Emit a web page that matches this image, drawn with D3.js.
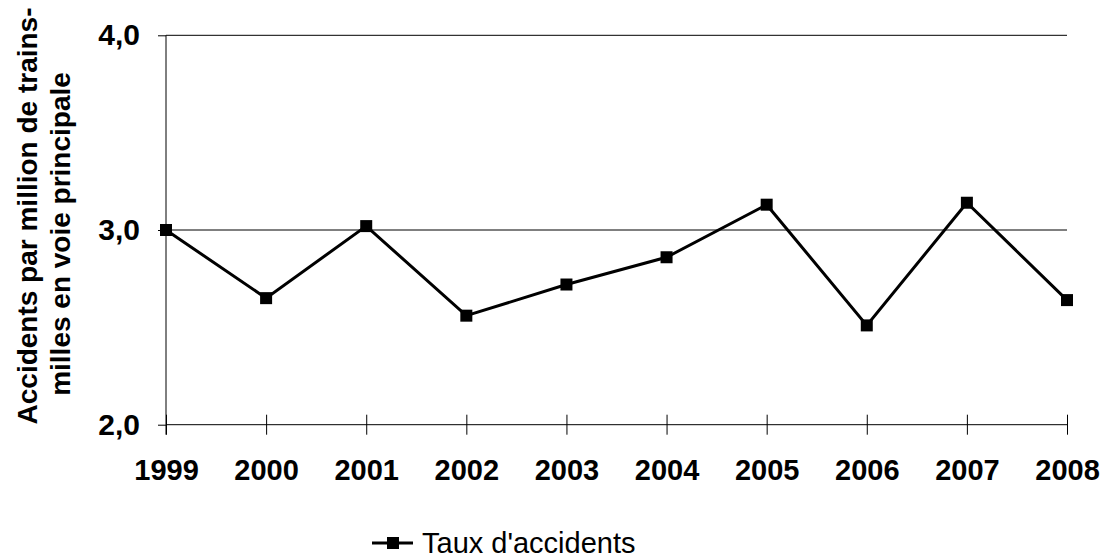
<!DOCTYPE html>
<html><head><meta charset="utf-8">
<script src="https://cdn.jsdelivr.net/npm/d3@7"></script>
<style>
body{margin:0;background:#fff;}
text{font-family:Arial,"Liberation Sans",sans-serif;}
</style></head>
<body>
<svg id="chart" width="1109" height="556"></svg>
<script>
const years = ["1999","2000","2001","2002","2003","2004","2005","2006","2007","2008"];
const rates = [3.00, 2.65, 3.02, 2.56, 2.72, 2.86, 3.13, 2.51, 3.14, 2.64];
const yTicks = [2.0, 3.0, 4.0];
const yTitle = ["Accidents par million de trains-", "milles en voie principale"];
const seriesName = "Taux d'accidents";

const FONT = "Arial, 'Liberation Sans', sans-serif";
const svg = d3.select("#chart");
const pLeft = 166, pRight = 1067, pTop = 35.3, pBottom = 424.7;

const x = d3.scalePoint().domain(years).range([pLeft, pRight]);
const y = d3.scaleLinear().domain([2, 4]).range([pBottom, pTop]);

// gridlines
svg.append("g").selectAll("line").data(yTicks.filter(d => d > 2)).join("line")
  .attr("x1", pLeft).attr("x2", pRight)
  .attr("y1", d => y(d)).attr("y2", d => y(d))
  .attr("stroke", "#000").attr("stroke-width", 1);

// y axis
const yAxis = d3.axisLeft(y).tickValues(yTicks).tickSize(8).tickPadding(18)
  .tickFormat(d => d3.format(".1f")(d).replace(".", ","));
const gy = svg.append("g").attr("transform", `translate(${pLeft},0)`).call(yAxis);
gy.select(".domain").attr("d", `M0,${pTop}V${pBottom + 10}`).attr("stroke", "#000");
gy.selectAll(".tick line").attr("stroke", "#000");
gy.selectAll(".tick text").attr("font-size", 30).attr("font-weight", "bold").attr("fill", "#000")
  .attr("font-family", FONT);

// x axis
const xAxis = d3.axisBottom(x).tickSize(10).tickPadding(25);
const gx = svg.append("g").attr("transform", `translate(0,${pBottom})`).call(xAxis);
gx.select(".domain").attr("d", `M${pLeft},0H${pRight}`).attr("stroke", "#000");
gx.selectAll(".tick line").attr("stroke", "#000").attr("y1", -10);
gx.selectAll(".tick text").attr("font-size", 29).attr("font-weight", "bold").attr("fill", "#000")
  .attr("font-family", FONT);

// y title (two centred lines)
const titleCenters = [216, 234];
const titleBaselines = [37, 70];
const yt = svg.append("text").attr("transform", "rotate(-90)")
  .attr("text-anchor", "middle").attr("font-size", 28).attr("font-weight", "bold");
yt.selectAll("tspan").data(yTitle).join("tspan")
  .attr("x", (d, i) => -titleCenters[i]).attr("y", (d, i) => titleBaselines[i]).text(d => d);

// line
const data = years.map((yr, i) => ({yr, v: rates[i]}));
svg.append("path").datum(data)
  .attr("fill", "none").attr("stroke", "#000").attr("stroke-width", 3)
  .attr("d", d3.line().x(d => x(d.yr)).y(d => y(d.v)));
svg.append("g").selectAll("rect").data(data).join("rect")
  .attr("x", d => x(d.yr) - 6).attr("y", d => y(d.v) - 6)
  .attr("width", 12).attr("height", 12).attr("fill", "#000");

// legend
const lg = svg.append("g").attr("transform", "translate(0,543)");
lg.append("line").attr("x1", 372).attr("x2", 413).attr("y1", 0).attr("y2", 0)
  .attr("stroke", "#000").attr("stroke-width", 3);
lg.append("rect").attr("x", 387).attr("y", -6).attr("width", 12).attr("height", 12).attr("fill", "#000");
lg.append("text").attr("x", 422).attr("y", 10).attr("font-size", 29).text(seriesName);
</script>
</body></html>
